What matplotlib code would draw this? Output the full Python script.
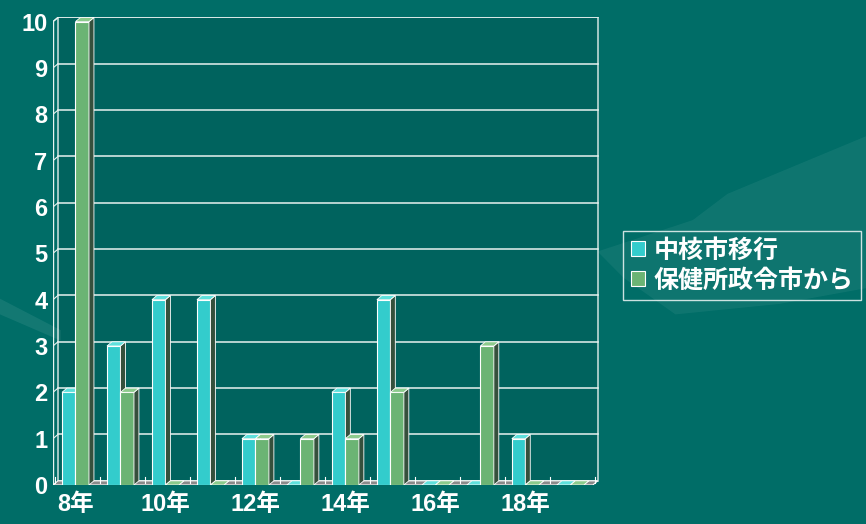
import numpy as np
import matplotlib
matplotlib.use('Agg')
import matplotlib.pyplot as plt
from matplotlib.patches import Polygon, Patch

plt.rcParams['font.family'] = ['Noto Sans CJK JP', 'DejaVu Sans']

# data
years = ['8年', '9年', '10年', '11年', '12年', '13年', '14年', '15年', '16年', '17年', '18年', '19年']
chukaku = [2, 3, 4, 4, 1, 0, 2, 4, 0, 0, 1, 0]        # 中核市移行
seirei = [10, 2, 0, 0, 1, 1, 1, 2, 0, 3, 0, 0]        # 保健所政令市から
series_names = ['中核市移行', '保健所政令市から']

# style
bg_fig = '#006d67'
bg_ax = '#00635e'
c_cyan = '#33cccc'
c_green = '#6bb474'
side_col = '#35503c'
top_cyan = '#5ee0dc'
top_green = '#8ccb8c'
dx, dy = 0.11, 0.09      # fake 3D depth in data units
bw = 0.3

fig = plt.figure(figsize=(8.66, 5.24), dpi=100, facecolor=bg_fig)

# faint hand shape in the background
hand = Polygon([(0.69, 0.52), (0.80, 0.58), (0.84, 0.63), (1.0, 0.74), (1.0, 0.45),
                (0.90, 0.42), (0.78, 0.40), (0.72, 0.47)],
               closed=True, transform=fig.transFigure, color='white', alpha=0.06, lw=0)
fig.patches.append(hand)
streak = Polygon([(0.0, 0.40), (0.0, 0.43), (0.07, 0.37), (0.07, 0.35)],
                 closed=True, transform=fig.transFigure, color='white', alpha=0.08, lw=0)
fig.patches.append(streak)

n = len(years)
xmin, xmax = -0.5, n - 0.5 + dx + 0.05
ax = fig.add_axes([53 / 866, 39 / 524, (600 - 53) / 866, (485 - 17) / 524])
ax.set_facecolor('none')
ax.set_xlim(xmin, xmax)
ax.set_ylim(0, 10 + dy + 0.01)
for s in ax.spines.values():
    s.set_visible(False)

# back wall
wall = Polygon([(-0.5 + dx, dy), (n - 0.5 + dx, dy), (n - 0.5 + dx, 10 + dy), (-0.5 + dx, 10 + dy)],
               closed=True, facecolor=bg_ax, edgecolor='#bfd9d6', lw=1.2, zorder=0)
ax.add_patch(wall)
for v in range(1, 11):
    ax.plot([-0.5 + dx, n - 0.5 + dx], [v + dy, v + dy], color='#e8f2f0', lw=1.1, zorder=1)
    ax.plot([-0.5, -0.5 + dx], [v, v + dy], color='#e8f2f0', lw=0.8, zorder=1)
# front y axis
ax.plot([-0.5, -0.5], [0, 10], color='#e8f2f0', lw=1.0, zorder=1)
ax.plot([-0.5, -0.5 + dx], [10, 10 + dy], color='#e8f2f0', lw=1.0, zorder=1)

# floor
floor = Polygon([(-0.5, 0), (n - 0.5, 0), (n - 0.5 + dx, dy), (-0.5 + dx, dy)],
                closed=True, facecolor='#8a8a8a', edgecolor='white', lw=0.8, zorder=2)
ax.add_patch(floor)
for i in range(n + 1):
    ax.plot([i - 0.5 + dx * 0.5, i - 0.5 + dx * 0.5], [dy * 0.5, dy * 0.5 + 0.12],
            color='white', lw=0.8, zorder=2)


def bar3d(x0, h, face, top):
    x1 = x0 + bw
    ax.bar(x0, h, width=bw, align='edge', color=face, edgecolor='white', lw=0.8, zorder=4)
    side = Polygon([(x1, 0), (x1 + dx, dy), (x1 + dx, h + dy), (x1, h)],
                   closed=True, facecolor=side_col, edgecolor='white', lw=0.6, zorder=4)
    ax.add_patch(side)
    tp = Polygon([(x0, h), (x1, h), (x1 + dx, h + dy), (x0 + dx, h + dy)],
                 closed=True, facecolor=top, edgecolor='white', lw=0.6, zorder=4)
    ax.add_patch(tp)


x = np.arange(n)
for i in range(n):
    bar3d(x[i] - bw, chukaku[i], c_cyan, top_cyan)
    bar3d(x[i], seirei[i], c_green, top_green)

ax.set_yticks(range(0, 11))
ax.set_yticklabels([str(v) for v in range(0, 11)], color='white', fontsize=17,
                   fontweight='bold', family=['Liberation Sans', 'DejaVu Sans'])
ax.set_xticks(x)
ax.set_xticklabels([y if i % 2 == 0 else '' for i, y in enumerate(years)],
                   color='white', fontsize=17, fontweight='bold',
                   family=['Liberation Sans', 'Noto Sans CJK JP'])
ax.tick_params(axis='both', length=0)
ax.tick_params(axis='y', pad=4)
ax.tick_params(axis='x', pad=6)

handles = [Patch(facecolor=c_cyan, edgecolor='white', lw=0.8),
           Patch(facecolor=c_green, edgecolor='white', lw=0.8)]
leg = fig.legend(handles, series_names, loc='center', bbox_to_anchor=(742 / 866, 1 - 265.5 / 524),
                 frameon=True, fancybox=False, facecolor='none', edgecolor='white',
                 prop={'size': 18, 'weight': 'bold'}, handlelength=0.55, handleheight=0.55,
                 handletextpad=0.35, labelspacing=0.25, borderpad=0.3)
for t in leg.get_texts():
    t.set_color('white')

fig.savefig('out.png', dpi=100, facecolor=bg_fig)
